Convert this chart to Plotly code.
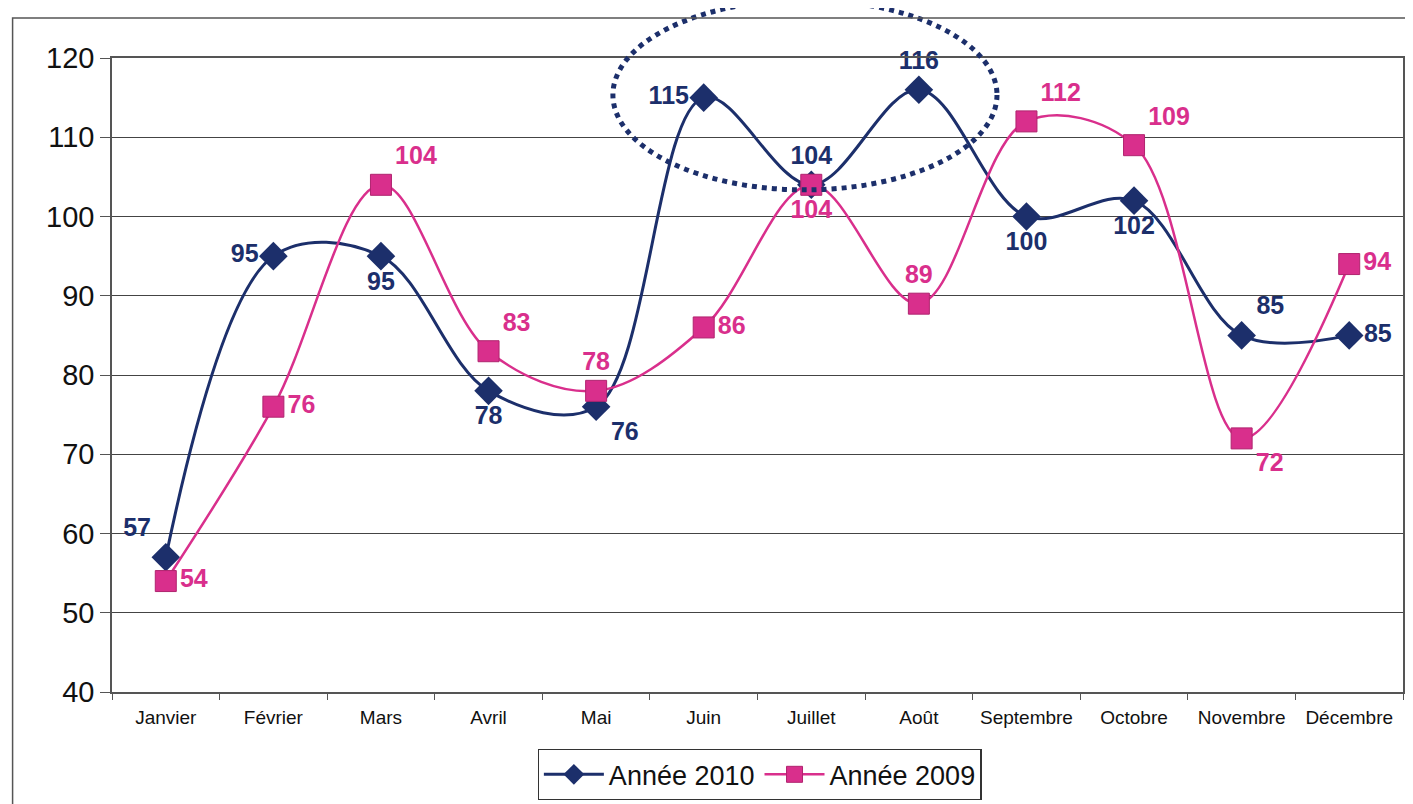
import plotly.graph_objects as go

NAVY = "#1c2f6b"
PINK = "#d92f8c"
FONT = "Liberation Sans, Arial, sans-serif"

months = ["Janvier", "Février", "Mars", "Avril", "Mai", "Juin", "Juillet",
          "Août", "Septembre", "Octobre", "Novembre", "Décembre"]
annee_2010 = [57, 95, 95, 78, 76, 115, 104, 116, 100, 102, 85, 85]
annee_2009 = [54, 76, 104, 83, 78, 86, 104, 89, 112, 109, 72, 94]

pos_2010 = ["top left", "middle left", "bottom center", "bottom center", "bottom right",
            "middle left", "top center", "top center", "bottom center", "bottom center",
            "top right", "middle right"]
pos_2009 = ["middle right", "middle right", "top right", "top right", "top center",
            "middle right", "bottom center", "top center", "top right", "top right",
            "bottom right", "middle right"]

fig = go.Figure()
fig.add_trace(go.Scatter(
    x=months, y=annee_2010, name="Année 2010",
    mode="lines+markers+text",
    line=dict(color=NAVY, width=3, shape="spline", smoothing=1),
    marker=dict(symbol="diamond", size=22, color=NAVY),
    text=[str(v) for v in annee_2010], textposition=pos_2010,
    textfont=dict(family=FONT, size=25, color=NAVY, weight="bold"),
    cliponaxis=False,
))
fig.add_trace(go.Scatter(
    x=months, y=annee_2009, name="Année 2009",
    mode="lines+markers+text",
    line=dict(color=PINK, width=2.5, shape="spline", smoothing=1),
    marker=dict(symbol="square", size=21, color=PINK, line=dict(color="#b0246f", width=1)),
    text=[str(v) for v in annee_2009], textposition=pos_2009,
    textfont=dict(family=FONT, size=25, color=PINK, weight="bold"),
    cliponaxis=False,
))

# dotted ellipse around the summer peak (paper coords so it is not clipped)
fig.add_shape(type="circle", xref="paper", yref="paper", x0=0.388, x1=0.6855, y0=0.792, y1=1.0915,
              line=dict(color=NAVY, width=5, dash="dot"), layer="above")
# outer chart frame
fig.add_shape(type="rect", xref="paper", yref="paper", x0=-0.077, x1=1.03, y0=-0.25, y1=1.063,
              line=dict(color="#555555", width=1.5))

# page body adds an 8px offset, so the figure is sized to fit the window
fig.update_layout(
    width=1405, height=796,
    paper_bgcolor="white", plot_bgcolor="white",
    margin=dict(l=104, r=10, t=50, b=112),
    font=dict(family=FONT, color="#111111"),
    showlegend=True,
    legend=dict(orientation="h", xref="container", yref="container",
                x=0.535, xanchor="center", y=0.069, yanchor="top",
                bordercolor="#333333", borderwidth=1.2, bgcolor="white",
                font=dict(size=27, color="#111111"), itemwidth=60),
)
fig.update_xaxes(
    type="category", range=[-0.5, 11.5], showgrid=False, automargin=False,
    showline=True, linecolor="#555555", linewidth=1.5, mirror=True,
    ticks="outside", tickson="boundaries", ticklen=6, tickcolor="#555555",
    ticklabelstandoff=7,
    tickfont=dict(size=19, color="#111111"),
)
fig.update_yaxes(
    range=[40, 120], dtick=10, showgrid=True, gridcolor="#444444", gridwidth=1,
    showline=True, linecolor="#555555", linewidth=1.5, mirror=True, automargin=False,
    ticks="outside", ticklen=10, tickcolor="#555555", zeroline=False,
    tickfont=dict(size=29, color="#111111"),
)

fig.write_html("out.html")
